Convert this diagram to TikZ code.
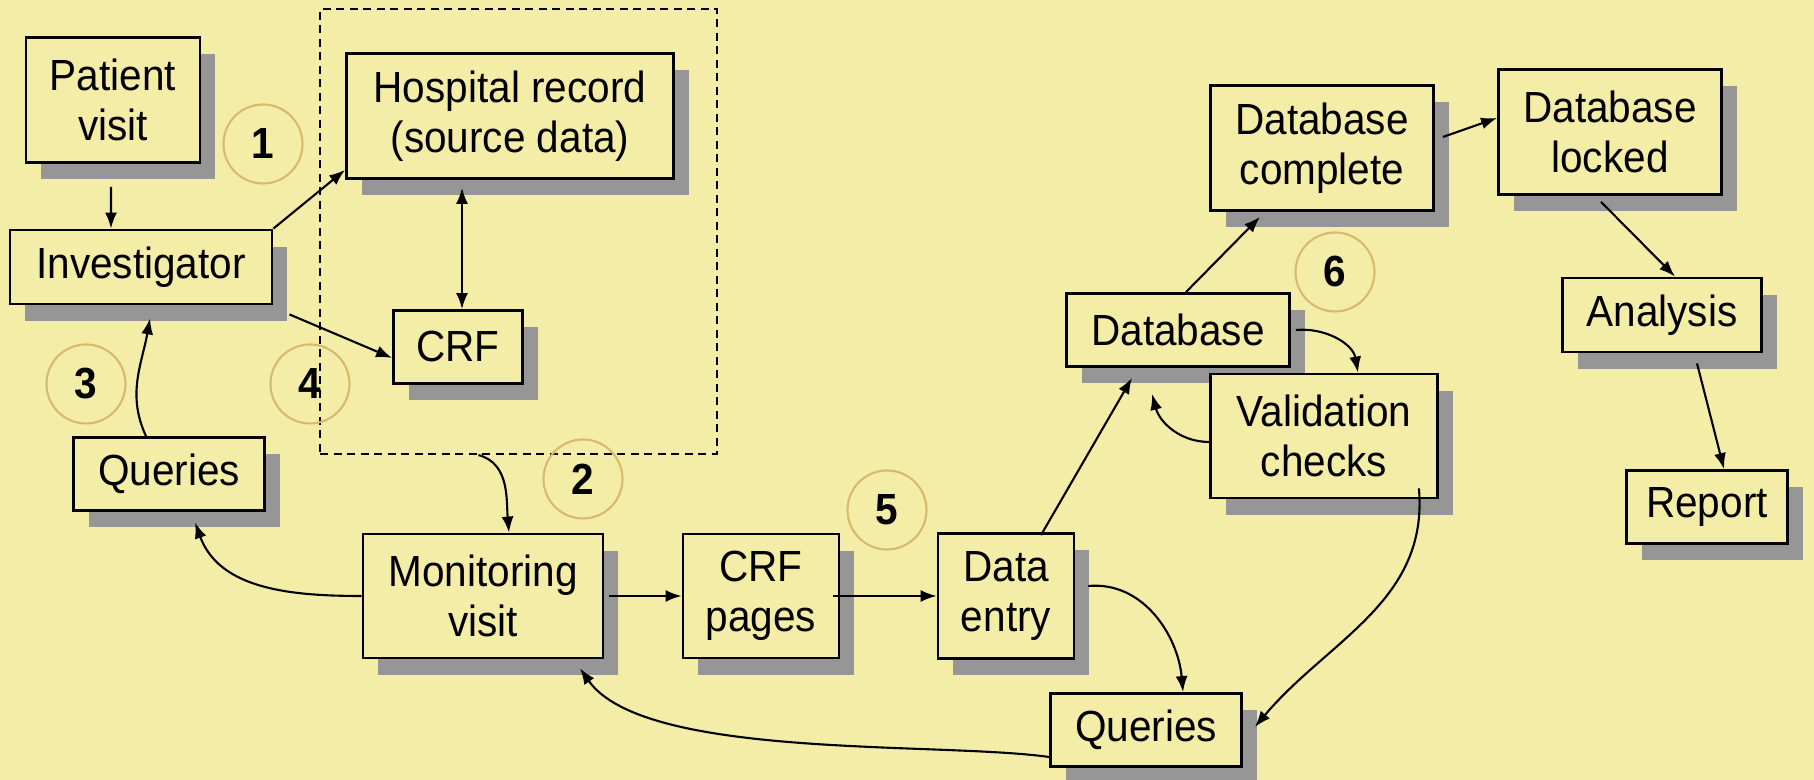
\documentclass[tikz,border=0pt]{standalone}
\usepackage{fontspec}
\setmainfont[FakeStretch=0.93]{Liberation Sans}
\usetikzlibrary{arrows.meta,shadows,calc}
\definecolor{paper}{RGB}{244,237,168}
\definecolor{shade}{RGB}{150,150,150}
\definecolor{ring}{RGB}{214,186,110}

\begin{document}
\begin{tikzpicture}[x=0.1mm,y=0.1mm,
  font=\fontsize{12.4}{14.2}\selectfont,
  box/.style={draw,line width=0.8pt,fill=paper,align=center,inner sep=0pt,
    general shadow={fill=shade,shadow xshift=1.5mm,shadow yshift=-1.7mm}},
  num/.style={circle,draw=ring,line width=0.6pt,minimum size=7.9mm,inner sep=0pt,font=\fontsize{12.4}{14.2}\selectfont\bfseries},
  arr/.style={line width=0.6pt,-{Latex[length=1.6mm,width=1.2mm]}},
  both/.style={line width=0.6pt,{Latex[length=1.6mm,width=1.2mm]}-{Latex[length=1.6mm,width=1.2mm]}}]
\useasboundingbox (0,0) rectangle (1814,780);
\fill[paper] (0,0) rectangle (1814,780);

\node[draw,dashed,line width=0.6pt,dash pattern=on 0.8mm off 0.55mm,minimum width=39.7mm,minimum height=44.5mm] (grp) at (518.5,548.5) {};

\node[num] (n1) at (263,636) {1};
\node[num] (n2) at (583,301) {2};
\node[num] (n3) at (86,396) {3};
\node[num] (n4) at (310,396) {4};
\node[num] (n5) at (887,270) {5};
\node[num] (n6) at (1335,508) {6};

\node[box,minimum width=17.4mm,minimum height=12.5mm] (pv) at (113,680) {Patient\\visit};
\node[box,minimum width=32.7mm,minimum height=12.5mm] (hosp) at (510,664) {Hospital record\\(source data)};
\node[box,minimum width=26.2mm,minimum height=7.4mm] (inv) at (141,513) {Investigator};
\node[box,minimum width=12.9mm,minimum height=7.3mm] (crf) at (458,433) {CRF};
\node[box,minimum width=19.1mm,minimum height=7.3mm] (qleft) at (169,306) {Queries};
\node[box,minimum width=24.0mm,minimum height=12.4mm] (mon) at (483,184) {Monitoring\\visit};
\node[box,minimum width=15.6mm,minimum height=12.4mm] (crfp) at (761,184) {CRF\\pages};
\node[box,minimum width=13.6mm,minimum height=12.5mm] (dent) at (1006,184) {Data\\entry};
\node[box,minimum width=19.1mm,minimum height=7.3mm] (qbot) at (1146,50) {Queries};
\node[box,minimum width=22.3mm,minimum height=7.3mm] (db) at (1178,450) {Database};
\node[box,minimum width=22.7mm,minimum height=12.4mm] (val) at (1324,344) {Validation\\checks};
\node[box,minimum width=22.3mm,minimum height=12.5mm] (dbc) at (1322,632) {Database\\complete};
\node[box,minimum width=22.3mm,minimum height=12.5mm] (dbl) at (1610,648) {Database\\locked};
\node[box,minimum width=19.9mm,minimum height=7.4mm] (ana) at (1662,465) {Analysis};
\node[box,minimum width=16.1mm,minimum height=7.3mm] (rep) at (1707,273) {Report};

\draw[arr] ([xshift=-0.2mm,yshift=-2.3mm]pv.south) -- ($(inv.north)+(-3mm,0)$);
\draw[arr] (inv.north east) -- ([yshift=1mm]hosp.south west);
\draw[arr] ([xshift=1.6mm,yshift=-0.9mm]inv.south east) -- ([yshift=-1.1mm]crf.west);
\draw[both] ($(crf.north |- hosp.south)+(0.4mm,-0.8mm)$) -- ([xshift=0.4mm]crf.north);
\draw[arr] ([xshift=-2.3mm]qleft.north) to[out=115,in=-100] ([xshift=0.9mm,yshift=-1.3mm]inv.south);
\draw[arr] ([xshift=-4mm]grp.south) to[out=-15,in=95] ([xshift=2.6mm]mon.north);
\draw[arr] (mon.west) to[out=180,in=-70] ([xshift=2.6mm,yshift=-1.05mm]qleft.south);
\draw[arr] ([xshift=0.5mm]mon.east) -- (crfp.west);
\draw[arr] ([xshift=-0.7mm]crfp.east) -- (dent.west);
\draw[arr] ([xshift=3.5mm,yshift=-0.3mm]dent.north) -- ([xshift=-4.6mm,yshift=-1mm]db.south);
\draw[arr] ([xshift=0.8mm]db.north) -- ([xshift=-6.2mm,yshift=-0.5mm]dbc.south);
\draw[arr] ([xshift=0.8mm,yshift=1.1mm]dbc.east) -- ([yshift=1.4mm]dbl.west);
\draw[arr] ([xshift=-0.9mm,yshift=-0.6mm]dbl.south) -- ([xshift=1.3mm]ana.north);
\draw[arr] ([xshift=3.5mm,yshift=-1mm]ana.south) -- ([xshift=1.7mm]rep.north);
\draw[arr] ([xshift=0.5mm]db.east) to[out=5,in=100] ([xshift=3.4mm]val.north);
\draw[arr] ([yshift=-0.6mm]val.west) to[out=180,in=-75] ([xshift=-2.6mm,yshift=-2.6mm]db.south);
\draw[arr] ([xshift=1.3mm,yshift=1mm]dent.east) to[out=5,in=95] ([xshift=3.7mm]qbot.north);
\draw[arr] ([xshift=-2mm,yshift=1.1mm]val.south east) to[out=-85,in=50] ([xshift=1.2mm,yshift=0.3mm]qbot.east);
\draw[arr] ([yshift=-2.7mm]qbot.west) to[out=172,in=-55,looseness=0.6] ([xshift=9.7mm,yshift=-0.9mm]mon.south);
\end{tikzpicture}
\end{document}
